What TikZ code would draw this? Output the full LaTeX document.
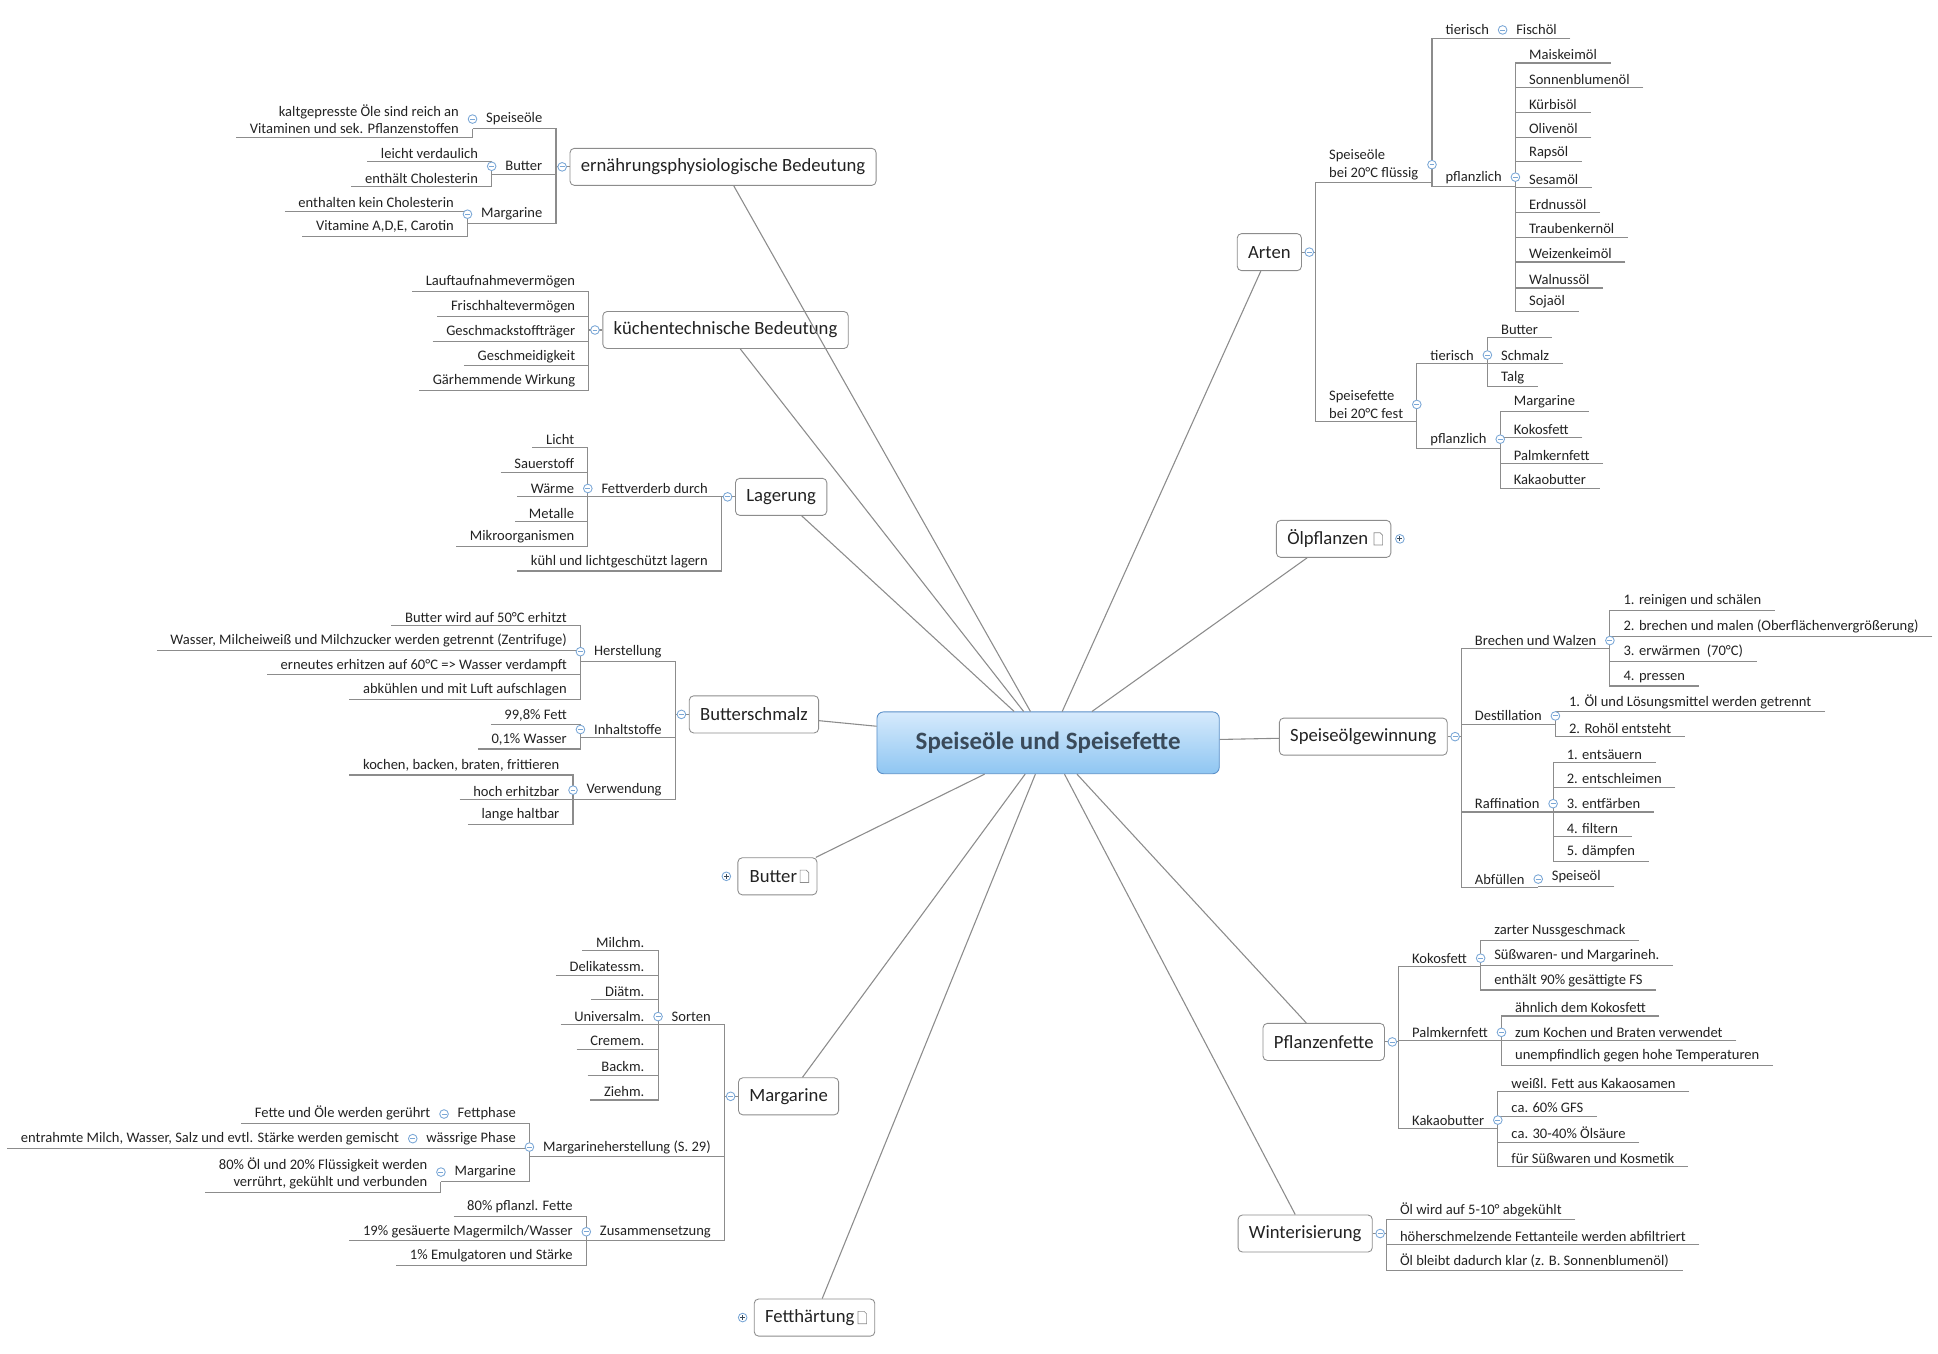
\documentclass[tikz,border=0pt]{standalone}
\usepackage{fontspec}
\setmainfont{Carlito}
\usetikzlibrary{calc}
\definecolor{ln}{HTML}{8C8C8C}
\definecolor{txt}{HTML}{222222}
\definecolor{col}{HTML}{7AA7D6}
\definecolor{HTML5A8FC8}{HTML}{5A8FC8}
\definecolor{HTML3A4A5A}{HTML}{3A4A5A}
\definecolor{RC1}{HTML}{D6EAFC}
\definecolor{RC2}{HTML}{8FC6F2}
\tikzset{
 ln/.style={draw=ln,line width=0.5pt},
 lab/.style={inner xsep=6.3pt,inner ysep=1.5pt,outer sep=0pt,text=txt,font=\fontsize{6.7}{8}\selectfont},
 box/.style={draw=ln,fill=white,rounded corners=2pt,minimum height=0.6cm,inner xsep=5pt,text=txt,font=\fontsize{8.6}{10}\selectfont},
 root/.style={draw=HTML5A8FC8,rounded corners=3pt,top color=RC1,bottom color=RC2,minimum width=5.54cm,minimum height=1cm,text=HTML3A4A5A,font=\bfseries\fontsize{11.5}{13}\selectfont},
 cc/.style={circle,draw=col,fill=white,minimum size=0.14cm,inner sep=0pt,line width=0.4pt},
}
\newcommand\Lc[4]{\node[lab,anchor=south east,align=right] (#2) at (#1 |- 0,#3) {#4};
 \draw[ln] (#2.south west) -- (#2.south east) -- (#1);}
\newcommand\Rc[4]{\node[lab,anchor=south west,align=left] (#2) at (#1 |- 0,#3) {#4};
 \draw[ln] (#2.south east) -- (#2.south west) -- (#1);}
\newcommand\Cm[1]{\node[cc] at (#1) {}; \draw[col,line width=0.4pt] ($(#1)+(-2,0)$) -- ($(#1)+(2,0)$);}
\newcommand\Cp[1]{\node[cc] at (#1) {}; \draw[HTML3A4A5A,line width=0.4pt] ($(#1)+(-2,0)$) -- ($(#1)+(2,0)$) ($(#1)+(0,-2)$) -- ($(#1)+(0,2)$);}
\newcommand\Ic[1]{\draw[ln,fill=white,line width=0.3pt] ($(#1)+(-14,-5)$) -- ($(#1)+(-9,-5)$) -- ($(#1)+(-7,-3)$) -- ($(#1)+(-7,5)$) -- ($(#1)+(-14,5)$) -- cycle;}
\begin{document}
\begin{tikzpicture}[x=0.02cm,y=-0.02cm]
\useasboundingbox (0,0) rectangle (1568,1095);
\node[root] (R) at (848,601) {Speiseöle und Speisefette};

% ---------- left boxes
\node[box] (A) at (585,135) {ernährungsphysiologische Bedeutung};
\node[box] (B) at (587,267) {küchentechnische Bedeutung};
\node[box] (C) at (632,402) {Lagerung};
\node[box] (D) at (610,578) {Butterschmalz};
\node[box,minimum width=1.28cm,text width=0.9cm] (E) at (629,709) {Butter};
\node[box] (F) at (638,887) {Margarine};
\node[box,minimum width=1.94cm,text width=1.6cm] (G) at (659,1066) {Fetthärtung};
% ---------- right boxes
\node[box] (H) at (1027,204) {Arten};
\node[box,minimum width=1.84cm,text width=1.5cm] (I) at (1079,436) {Ölpflanzen};
\node[box] (J) at (1103,596) {Speiseölgewinnung};
\node[box] (K) at (1071,843) {Pflanzenfette};
\node[box] (L) at (1056,998) {Winterisierung};

\foreach \b in {A,B,C,D,E,F,G,H,I,J,K,L} {\draw[ln] (R) -- (\b);}
\Ic{E.east}\Ic{G.east}\Ic{I.east}
\Cp{$(E.west)+(-9,0)$}\Cp{$(G.west)+(-9,0)$}\Cp{$(I.east)+(7,0)$}

% junctions
\foreach \b in {A,B,C,D,F} {\coordinate (j\b) at ($(\b.west)+(-11,0)$); \draw[ln] (j\b) -- (\b.west);}
\foreach \b in {H,J,K,L} {\coordinate (j\b) at ($(\b.east)+(11,0)$); \draw[ln] (j\b) -- (\b.east);}

% ---------- A
\Lc{jA}{a1}{104}{Speiseöle}
\Lc{a1.south west}{a11}{111}{kaltgepresste Öle sind reich an\\Vitaminen und sek. Pflanzenstoffen}
\Lc{jA}{a2}{141}{Butter}
\Lc{a2.south west}{a21}{131}{leicht verdaulich}
\Lc{a2.south west}{a22}{151}{enthält Cholesterin}
\Lc{jA}{a3}{181}{Margarine}
\Lc{a3.south west}{a31}{171}{enthalten kein Cholesterin}
\Lc{a3.south west}{a32}{191}{Vitamine A,D,E, Carotin}
\Cm{a1.west}\Cm{a2.west}\Cm{a3.west}
% ---------- B
\Lc{jB}{b1}{236}{Lauftaufnahmevermögen}
\Lc{jB}{b2}{256}{Frischhaltevermögen}
\Lc{jB}{b3}{276}{Geschmackstoffträger}
\Lc{jB}{b4}{296}{Geschmeidigkeit}
\Lc{jB}{b5}{316}{Gärhemmende Wirkung}
% ---------- C
\Lc{jC}{c1}{402}{Fettverderb durch}
\Lc{jC}{c2}{462}{kühl und lichtgeschützt lagern}
\Lc{c1.south west}{c11}{362}{Licht}
\Lc{c1.south west}{c12}{382}{Sauerstoff}
\Lc{c1.south west}{c13}{402}{Wärme}
\Lc{c1.south west}{c14}{422}{Metalle}
\Lc{c1.south west}{c15}{442}{Mikroorganismen}
\Cm{c1.west}
% ---------- D
\Lc{jD}{d1}{535}{Herstellung}
\Lc{jD}{d2}{597}{Inhaltstoffe}
\Lc{jD}{d3}{647}{Verwendung}
\Lc{d1.south west}{d11}{506}{Butter wird auf 50°C erhitzt}
\Lc{d1.south west}{d12}{526}{Wasser, Milcheiweiß und Milchzucker werden getrennt (Zentrifuge)}
\Lc{d1.south west}{d13}{546}{erneutes erhitzen auf 60°C => Wasser verdampft}
\Lc{d1.south west}{d14}{566}{abkühlen und mit Luft aufschlagen}
\Lc{d2.south west}{d21}{586}{99,8\% Fett}
\Lc{d2.south west}{d22}{606}{0,1\% Wasser}
\Lc{d3.south west}{d31}{627}{kochen, backen, braten, frittieren}
\Lc{d3.south west}{d32}{647}{hoch erhitzbar}
\Lc{d3.south west}{d33}{667}{lange haltbar}
\Cm{d1.west}\Cm{d2.west}\Cm{d3.west}
% ---------- F
\Lc{jF}{f1}{829}{Sorten}
\Lc{jF}{f2}{936}{Margarineherstellung (S. 29)}
\Lc{jF}{f3}{1004}{Zusammensetzung}
\Lc{f1.south west}{f11}{769}{Milchm.}
\Lc{f1.south west}{f12}{789}{Delikatessm.}
\Lc{f1.south west}{f13}{809}{Diätm.}
\Lc{f1.south west}{f14}{829}{Universalm.}
\Lc{f1.south west}{f15}{849}{Cremem.}
\Lc{f1.south west}{f16}{870}{Backm.}
\Lc{f1.south west}{f17}{890}{Ziehm.}
\Lc{f2.south west}{f21}{909}{Fettphase}
\Lc{f2.south west}{f22}{929}{wässrige Phase}
\Lc{f2.south west}{f23}{956}{Margarine}
\Lc{f21.south west}{f211}{909}{Fette und Öle werden gerührt}
\Lc{f22.south west}{f221}{929}{entrahmte Milch, Wasser, Salz und evtl. Stärke werden gemischt}
\Lc{f23.south west}{f231}{965}{80\% Öl und 20\% Flüssigkeit werden\\verrührt, gekühlt und verbunden}
\Lc{f3.south west}{f31}{984}{80\% pflanzl. Fette}
\Lc{f3.south west}{f32}{1004}{19\% gesäuerte Magermilch/Wasser}
\Lc{f3.south west}{f33}{1024}{1\% Emulgatoren und Stärke}
\Cm{f1.west}\Cm{f2.west}\Cm{f3.west}\Cm{f21.west}\Cm{f22.west}\Cm{f23.west}
% ---------- H
\Rc{jH}{h1}{148}{Speiseöle\\bei 20°C flüssig}
\Rc{jH}{h2}{341}{Speisefette\\bei 20°C fest}
\Rc{h1.south east}{h11}{31}{tierisch}
\Rc{h1.south east}{h12}{151}{pflanzlich}
\Rc{h11.south east}{h111}{31}{Fischöl}
\Rc{h12.south east}{p1}{51}{Maiskeimöl}
\Rc{h12.south east}{p2}{71}{Sonnenblumenöl}
\Rc{h12.south east}{p3}{91}{Kürbisöl}
\Rc{h12.south east}{p4}{111}{Olivenöl}
\Rc{h12.south east}{p5}{131}{Rapsöl}
\Rc{h12.south east}{p6}{152}{Sesamöl}
\Rc{h12.south east}{p7}{172}{Erdnussöl}
\Rc{h12.south east}{p8}{192}{Traubenkernöl}
\Rc{h12.south east}{p9}{212}{Weizenkeimöl}
\Rc{h12.south east}{p10}{233}{Walnussöl}
\Rc{h12.south east}{p11}{252}{Sojaöl}
\Rc{h2.south east}{h21}{294}{tierisch}
\Rc{h2.south east}{h22}{363}{pflanzlich}
\Rc{h21.south east}{t1}{273}{Butter}
\Rc{h21.south east}{t2}{294}{Schmalz}
\Rc{h21.south east}{t3}{313}{Talg}
\Rc{h22.south east}{q1}{333}{Margarine}
\Rc{h22.south east}{q2}{354}{Kokosfett}
\Rc{h22.south east}{q3}{375}{Palmkernfett}
\Rc{h22.south east}{q4}{395}{Kakaobutter}
\Cm{$(jH)+(-5,0)$}\Cm{h1.east}\Cm{h2.east}\Cm{h11.east}\Cm{h12.east}\Cm{h21.east}\Cm{h22.east}
% ---------- J
\Rc{jJ}{g1}{525}{Brechen und Walzen}
\Rc{jJ}{g2}{586}{Destillation}
\Rc{jJ}{g3}{657}{Raffination}
\Rc{jJ}{g4}{718}{Abfüllen}
\Rc{g1.south east}{g11}{494}{1. reinigen und schälen}
\Rc{g1.south east}{g12}{515}{2. brechen und malen (Oberflächenvergrößerung)}
\Rc{g1.south east}{g13}{535}{3. erwärmen\ \ (70°C)}
\Rc{g1.south east}{g14}{555}{4. pressen}
\Rc{g2.south east}{g21}{576}{1. Öl und Lösungsmittel werden getrennt}
\Rc{g2.south east}{g22}{596}{2. Rohöl entsteht}
\Rc{g3.south east}{g31}{617}{1. entsäuern}
\Rc{g3.south east}{g32}{637}{2. entschleimen}
\Rc{g3.south east}{g33}{657}{3. entfärben}
\Rc{g3.south east}{g34}{677}{4. filtern}
\Rc{g3.south east}{g35}{697}{5. dämpfen}
\Rc{g4.south east}{g41}{717}{Speiseöl}
\Cm{$(jJ)+(-5,0)$}\Cm{g1.east}\Cm{g2.east}\Cm{g3.east}\Cm{g4.east}
% ---------- K
\Rc{jK}{k1}{782}{Kokosfett}
\Rc{jK}{k2}{842}{Palmkernfett}
\Rc{jK}{k3}{913}{Kakaobutter}
\Rc{k1.south east}{k11}{761}{zarter Nussgeschmack}
\Rc{k1.south east}{k12}{781}{Süßwaren- und Margarineh.}
\Rc{k1.south east}{k13}{801}{enthält 90\% gesättigte FS}
\Rc{k2.south east}{k21}{822}{ähnlich dem Kokosfett}
\Rc{k2.south east}{k22}{842}{zum Kochen und Braten verwendet}
\Rc{k2.south east}{k23}{862}{unempfindlich gegen hohe Temperaturen}
\Rc{k3.south east}{k31}{883}{weißl. Fett aus Kakaosamen}
\Rc{k3.south east}{k32}{903}{ca. 60\% GFS}
\Rc{k3.south east}{k33}{924}{ca. 30-40\% Ölsäure}
\Rc{k3.south east}{k34}{944}{für Süßwaren und Kosmetik}
\Cm{$(jK)+(-5,0)$}\Cm{k1.east}\Cm{k2.east}\Cm{k3.east}
% ---------- L
\Rc{jL}{l1}{987}{Öl wird auf 5-10° abgekühlt}
\Rc{jL}{l2}{1007}{höherschmelzende Fettanteile werden abfiltriert}
\Rc{jL}{l3}{1028}{Öl bleibt dadurch klar (z. B. Sonnenblumenöl)}
\Cm{$(jL)+(-5,0)$}
% left box collapse circles
\Cm{$(jA)+(5,0)$}\Cm{$(jB)+(5,0)$}\Cm{$(jC)+(5,0)$}\Cm{$(jD)+(5,0)$}\Cm{$(jF)+(5,0)$}
\end{tikzpicture}
\end{document}
